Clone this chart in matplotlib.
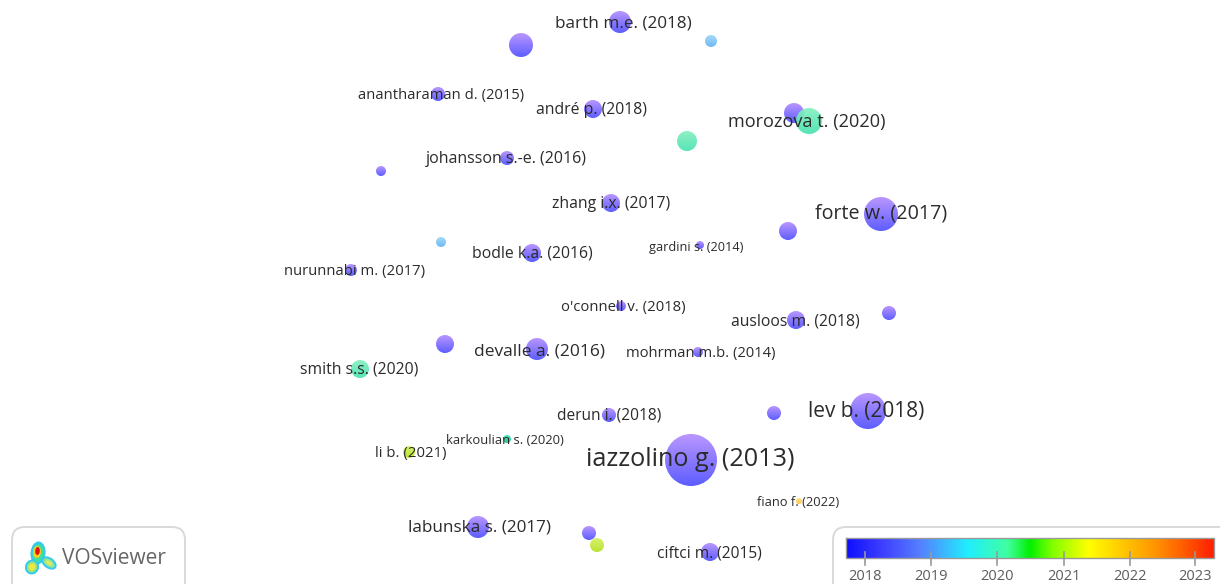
import numpy as np
import matplotlib
matplotlib.use("Agg")
import matplotlib.pyplot as plt
from matplotlib.colors import LinearSegmentedColormap
from matplotlib.patches import Circle, Ellipse, FancyBboxPatch

plt.rcParams['font.family'] = ['Open Sans', 'DejaVu Sans']

# ====== Data (in image pixels) ======
node_x = [620, 521, 711, 438, 593, 794, 809, 687, 507, 381, 611, 881, 788, 700, 441, 532, 351, 621,
          889, 796, 445, 537, 698, 360, 774, 868, 609, 507, 409, 691, 799, 478, 589, 597, 710]
node_y = [22, 45, 41, 94, 109, 113, 121, 141, 158, 171, 203, 214, 231, 245, 242, 253, 270, 306,
          313, 320, 344, 349, 352, 369, 413, 411, 415, 439, 452, 460, 501, 527, 533, 545, 552]
node_r = [11, 12, 6, 7, 9, 10, 13, 10, 7, 5, 9, 17, 9, 4, 5, 9, 6, 5,
          7, 9, 9, 11, 5, 9, 7, 18, 7, 4, 6, 26, 3, 11, 7, 7, 9]
node_group = ["p", "p", "b", "p", "p", "p", "g", "g", "p", "p", "p", "p", "p", "p", "b", "p", "p", "p",
              "p", "p", "p", "p", "p", "g", "p", "p", "p", "t", "l", "p", "y", "p", "p", "l", "p"]

labels = ["barth m.e. (2018)", "anantharaman d. (2015)", "andré p. (2018)", "morozova t. (2020)",
          "johansson s.-e. (2016)", "zhang i.x. (2017)", "forte w. (2017)", "gardini s. (2014)",
          "bodle k.a. (2016)", "nurunnabi m. (2017)", "o'connell v. (2018)", "ausloos m. (2018)",
          "devalle a. (2016)", "mohrman m.b. (2014)", "smith s.s. (2020)", "lev b. (2018)",
          "derun i. (2018)", "karkoulian s. (2020)", "li b. (2021)", "iazzolino g. (2013)",
          "fiano f. (2022)", "labunska s. (2017)", "ciftci m. (2015)"]
label_x = [623, 441, 592, 807, 506, 611, 881, 696, 532, 355, 623, 795, 540, 701, 359, 866, 609, 505, 411, 690, 798, 480, 709]
label_y = [23, 95, 110, 122, 159, 204, 214, 247, 254, 271, 307, 321, 351, 353, 370, 412, 416, 441, 454, 460, 503, 528, 553]
label_size = [12.3, 10.6, 11.3, 13.1, 11.5, 11.3, 14.2, 9.2, 11.3, 10.75, 10.7, 11.35, 12.5, 10.6, 11.3, 15, 11.2, 9.35, 10.7, 18.2, 9.25, 12.3, 11.2]

bar_years = [2018, 2019, 2020, 2021, 2022, 2023]
bar_ticks = [865, 931, 997, 1064, 1130, 1195]

# top and bottom colour of the bubbles
group_colors = {
    "p": ("#b38dff", "#4f4fff"),
    "b": ("#9fd6f8", "#62b2f5"),
    "g": ("#85f0c2", "#48e2ae"),
    "t": ("#40e0b0", "#10c090"),
    "l": ("#d5f060", "#b5e020"),
    "y": ("#ffdf80", "#ffc030"),
}

fig = plt.figure(figsize=(12.2, 5.84), dpi=100)
ax = fig.add_axes([0, 0, 1, 1])
ax.set_xlim(0, 1220)
ax.set_ylim(584, 0)
ax.axis("off")

# --- Bubbles, each one a vertical gradient clipped to a circle ---
grad = np.linspace(0, 1, 64).reshape(-1, 1)
for x, y, r, g in zip(node_x, node_y, node_r, node_group):
    cmap = LinearSegmentedColormap.from_list("n", group_colors[g])
    im = ax.imshow(grad, cmap=cmap, extent=(x - r, x + r, y + r, y - r), aspect="auto", zorder=2, alpha=0.92)
    im.set_clip_path(Circle((x, y), r, transform=ax.transData))

for t, x, y, s in zip(labels, label_x, label_y, label_size):
    ax.text(x, y, t, fontsize=s, color="#2b2b2b", ha="center", va="center", zorder=3)

# --- VOSviewer box ---
ax.add_patch(FancyBboxPatch((12, 527), 173, 80, boxstyle="round,pad=0,rounding_size=13",
                            fc="white", ec="#d9d9d9", lw=1.4, zorder=4, clip_on=True))
logo = [(38, 553, 15, 23, 5, "#35c8f0"), (32, 567, 14, 15, 20, "#35c8f0"), (49, 563, 17, 11, 35, "#35c8f0"),
        (38, 553, 11, 18, 5, "#40e0a0"), (32, 567, 10, 11, 20, "#a0e870"), (49, 563, 13, 7, 35, "#90e890"),
        (37, 552, 8, 12, 5, "#f0d020"), (32, 567, 6, 7, 20, "#f0e840"), (49, 563, 7, 4, 35, "#e0e860"),
        (37.5, 551, 4.5, 8, 5, "#e01010")]
for x, y, w, h, a, c in logo:
    ax.add_patch(Ellipse((x, y), w, h, angle=a, fc=c, ec="none", zorder=5))
ax.text(62, 558, "VOSviewer", fontsize=15, color="#666666", ha="left", va="center", zorder=5)

# --- Colour bar ---
ax.add_patch(FancyBboxPatch((833, 527), 420, 80, boxstyle="round,pad=0,rounding_size=13",
                            fc="white", ec="#d9d9d9", lw=1.4, zorder=4))
bar_cmap = LinearSegmentedColormap.from_list("vos", [
    (0.0, "#1010ff"), (0.1, "#4040ff"), (0.2, "#5580ff"), (0.33, "#20eeff"), (0.44, "#40ffa0"), (0.5, "#00f000"),
    (0.56, "#80ff00"), (0.66, "#ffff00"), (0.85, "#ff9000"), (1.0, "#ff2000")])
ax.imshow(np.linspace(0, 1, 368).reshape(1, -1), cmap=bar_cmap, extent=(846, 1214, 558, 538), aspect="auto", zorder=5)
ax.plot([846, 1214, 1214, 846, 846], [538, 538, 558, 558, 538], color="#999999", lw=1, zorder=6)
for x, yr in zip(bar_ticks, bar_years):
    ax.plot([x, x], [552, 565], color="#999999", lw=1.2, zorder=6)
    ax.text(x, 576, str(yr), fontsize=10.5, color="#5c5c5c", ha="center", va="center", zorder=6)

ax.set_xlim(0, 1220)
ax.set_ylim(584, 0)
fig.savefig("out.png", dpi=100)
